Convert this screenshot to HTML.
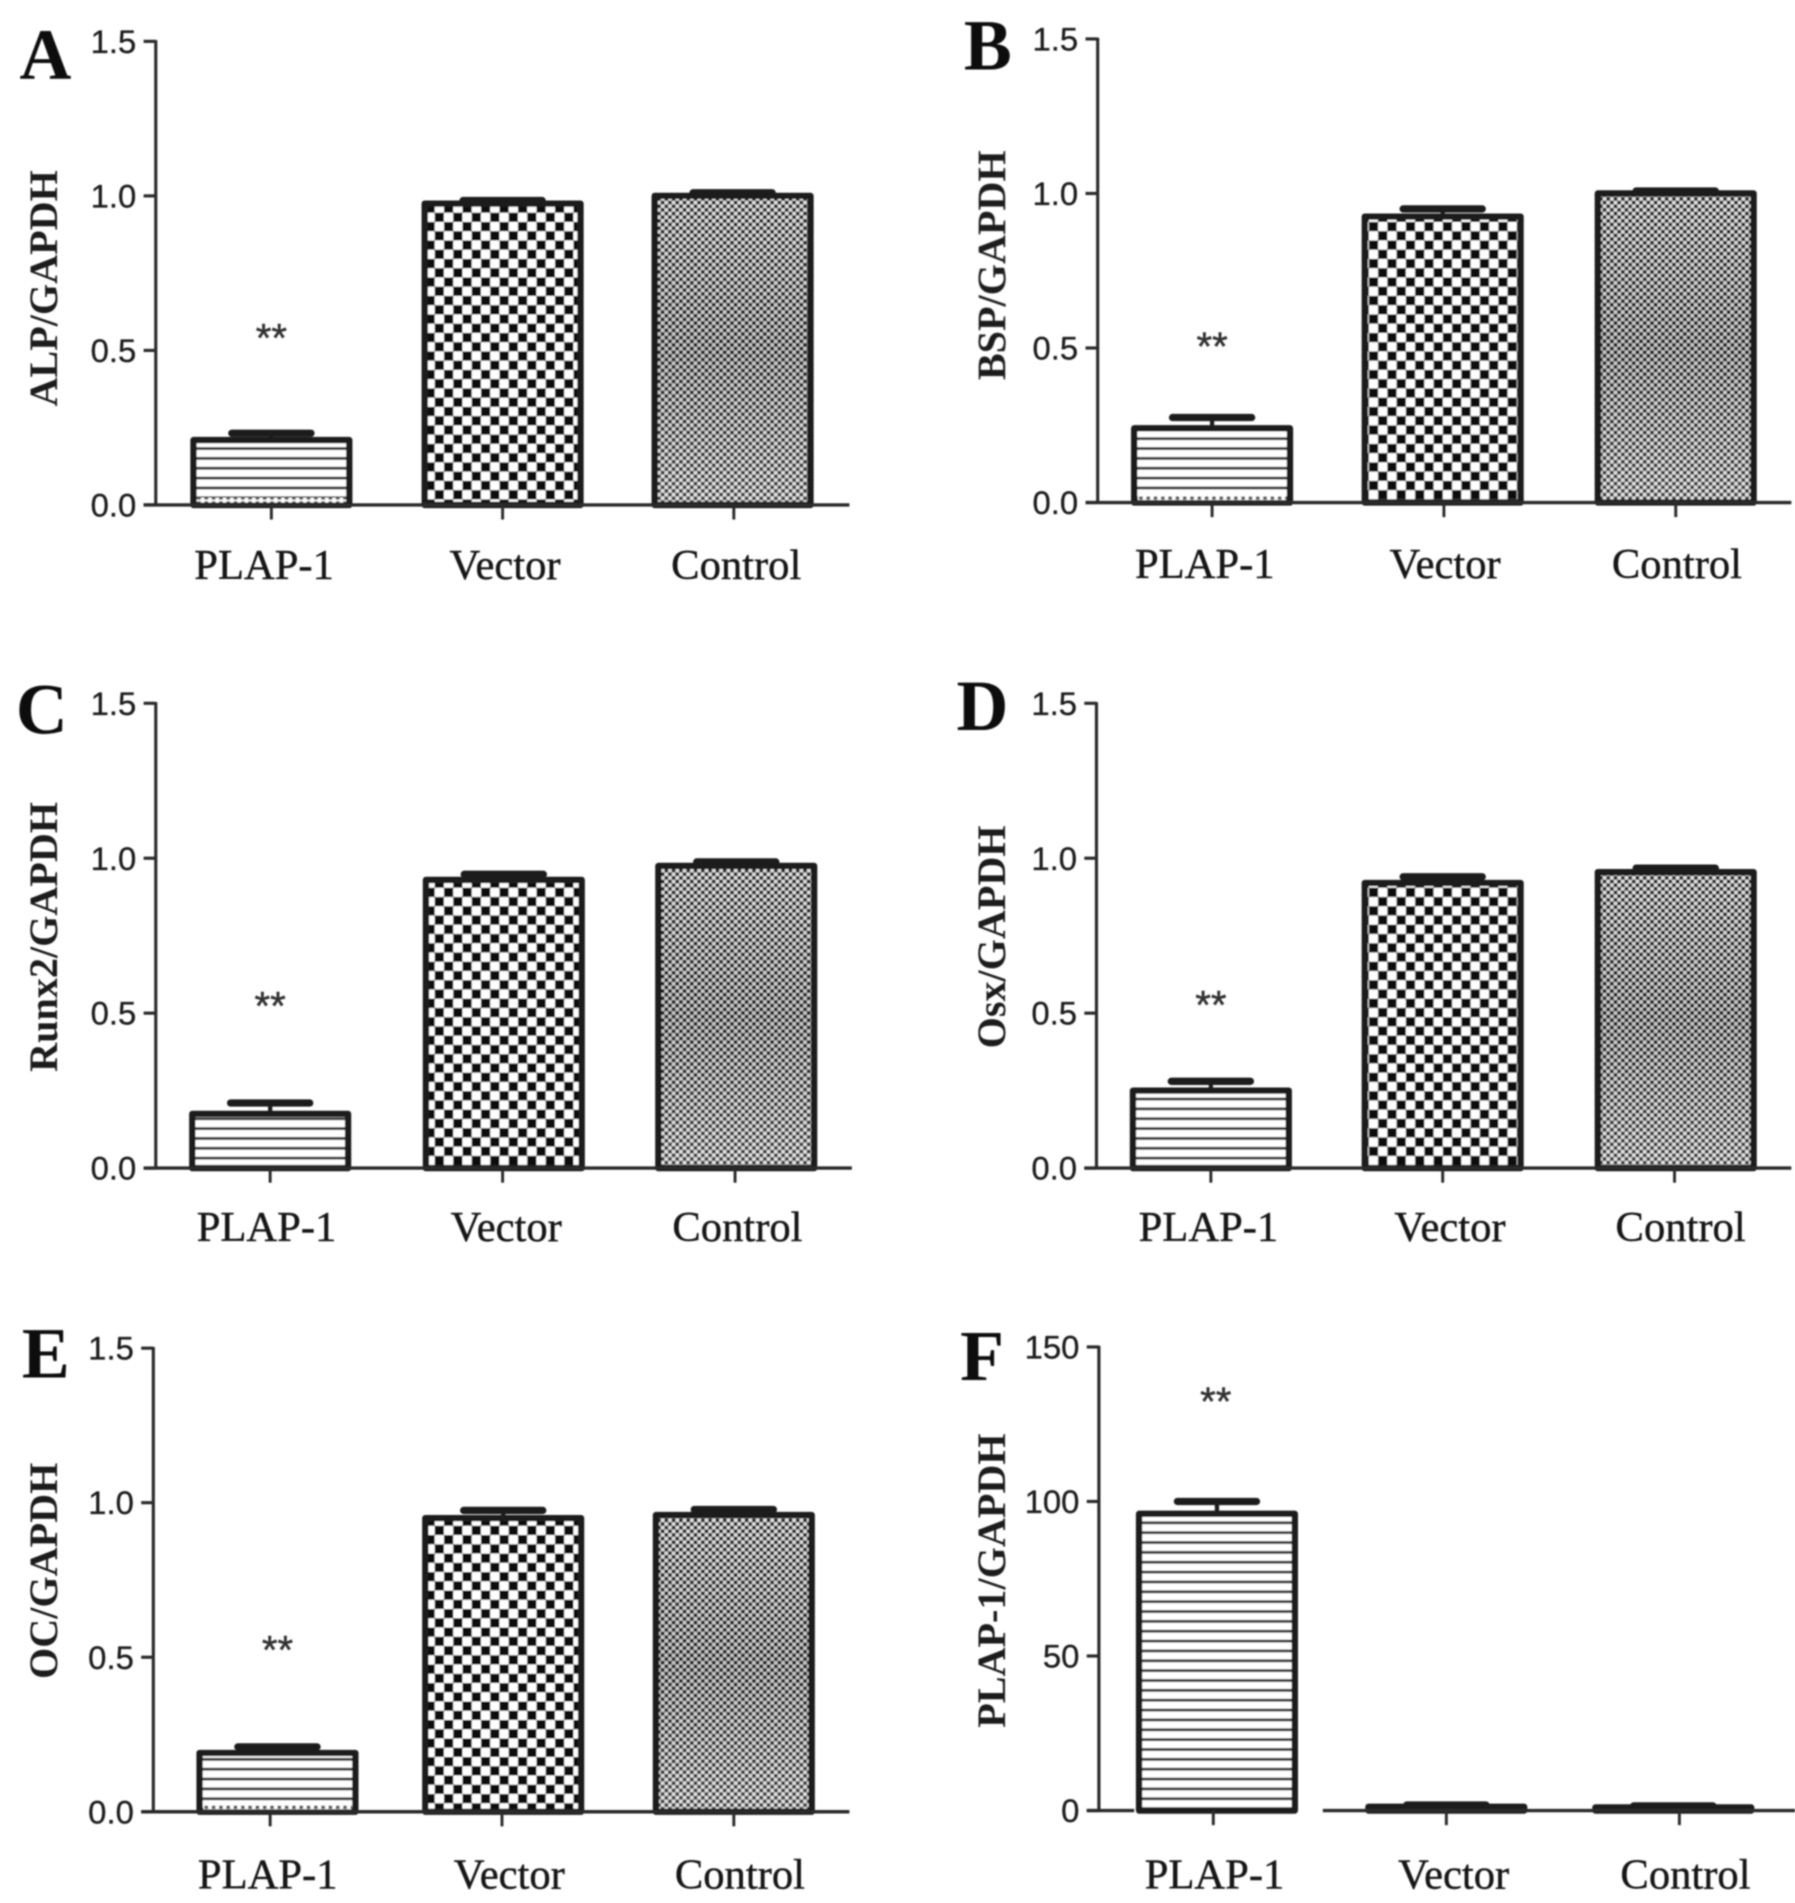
<!DOCTYPE html>
<html lang="en">
<head>
<meta charset="utf-8">
<title>PLAP-1 expression bar charts</title>
<style>
html,body{margin:0;padding:0;background:#fff;}
body{width:1795px;height:1903px;overflow:hidden;}
svg{display:block;}
.tick{font-family:"Liberation Sans",sans-serif;font-size:27px;fill:#1c1c1c;stroke:#1c1c1c;stroke-width:.25px;}
.cat{font-family:"Liberation Serif",serif;font-size:35px;fill:#141414;stroke:#141414;stroke-width:.35px;}
.title{font-family:"Liberation Serif",serif;font-weight:bold;font-size:33px;fill:#1c1c1c;}
.letter{font-family:"Liberation Serif",serif;font-weight:bold;font-size:59px;fill:#0c0c0c;}
.star{font-family:"Liberation Sans",sans-serif;font-size:33px;fill:#333;stroke:#333;stroke-width:.4px;}
</style>
</head>
<body>
<svg id="figure" xmlns="http://www.w3.org/2000/svg" width="1795" height="1903" viewBox="0 0 1475 1564" preserveAspectRatio="none">
  <defs>
    <filter id="soft" filterUnits="userSpaceOnUse" x="0" y="0" width="1475" height="1564">
      <feGaussianBlur stdDeviation="0.65"/>
    </filter>
    <pattern id="fill-hatch" patternUnits="userSpaceOnUse" width="8" height="8.1">
      <rect width="8" height="8.1" fill="#fff"/>
      <rect y="3" width="8" height="2.3" fill="#333"/>
    </pattern>
    <pattern id="fill-check" patternUnits="userSpaceOnUse" width="15.2" height="15.2">
      <rect width="15.2" height="15.2" fill="#fff"/>
      <rect width="7.6" height="7.6" fill="#111"/>
      <rect x="7.6" y="7.6" width="7.6" height="7.6" fill="#111"/>
    </pattern>
    <pattern id="fill-fine" patternUnits="userSpaceOnUse" width="6" height="6">
      <rect width="6" height="6" fill="#e2e2e2"/>
      <rect width="3" height="3" fill="#222"/>
      <rect x="3" y="3" width="3" height="3" fill="#222"/>
    </pattern>
    <pattern id="fill-dots" patternUnits="userSpaceOnUse" width="6" height="4">
      <rect width="6" height="4" fill="#fff"/>
      <rect width="3" height="2.6" fill="#555"/>
    </pattern>
    <linearGradient id="fine-shade" x1="0" y1="0" x2="0" y2="1">
      <stop offset="0" stop-color="#000" stop-opacity="0"/>
      <stop offset="0.5" stop-color="#000" stop-opacity="0.12"/>
      <stop offset="1" stop-color="#fff" stop-opacity="0.12"/>
    </linearGradient>
  </defs>
  <g id="plot-root" filter="url(#soft)"></g>
</svg>
<script>
// ---- chart data ----
const categories = ["PLAP-1", "Vector", "Control"];
const panelLetters = ["A", "B", "C", "D", "E", "F"];
const yTitles = ["ALP/GAPDH", "BSP/GAPDH", "Runx2/GAPDH", "Osx/GAPDH", "OC/GAPDH", "PLAP-1/GAPDH"];
const ratioTicks = ["0.0", "0.5", "1.0", "1.5"];
const percentTicks = ["0", "50", "100", "150"];
const meansA = [0.21, 0.975, 1.0];
const meansB = [0.24, 0.925, 1.0];
const meansC = [0.175, 0.93, 0.975];
const meansD = [0.25, 0.92, 0.955];
const meansE = [0.19, 0.95, 0.96];
const meansF = [96, 1.2, 1.0];
const errorTopsA = [0.232, 0.985, 1.01];
const errorTopsB = [0.275, 0.95, 1.008];
const errorTopsC = [0.21, 0.948, 0.988];
const errorTopsD = [0.28, 0.94, 0.968];
const errorTopsE = [0.21, 0.975, 0.978];
const errorTopsF = [100, 1.8, 1.5];

// ---- panel geometry (layout only, in the 1475x1564 view space) ----
const panels = [
  {means: meansA, tops: errorTopsA, ticks: ratioTicks, axisX: 128, yTop: 34, y0: 415, xEnd: 698, tick0: 223, step: 190, barShift: [0, 0, -1], labelShift: [-6, 2, 2], labelY: 476, starDx: 0, starY: 289, titleX: 47, titleY: 237, letterX: 16, letterY: 65, dots: true},
  {means: meansB, tops: errorTopsB, ticks: ratioTicks, axisX: 902, yTop: 32, y0: 413, xEnd: 1472, tick0: 996, step: 190.5, barShift: [0, -1, 0], labelShift: [-6, 1, 1], labelY: 475, starDx: 0, starY: 296, titleX: 826, titleY: 218, letterX: 792, letterY: 57, dots: true},
  {means: meansC, tops: errorTopsC, ticks: ratioTicks, axisX: 128, yTop: 578, y0: 960, xEnd: 700, tick0: 222, step: 191, barShift: [0, 1, 1], labelShift: [-3, 3, 2], labelY: 1020, starDx: 0, starY: 838, titleX: 47, titleY: 770, letterX: 13, letterY: 603, dots: false},
  {means: meansD, tops: errorTopsD, ticks: ratioTicks, axisX: 901, yTop: 578, y0: 960, xEnd: 1472, tick0: 995, step: 190.5, barShift: [0, 0, 1], labelShift: [-2, 6, 5], labelY: 1020, starDx: 0, starY: 837, titleX: 826, titleY: 770, letterX: 786, letterY: 600, dots: false},
  {means: meansE, tops: errorTopsE, ticks: ratioTicks, axisX: 126, yTop: 1108, y0: 1489, xEnd: 698, tick0: 222, step: 190.5, barShift: [6, 1, 0], labelShift: [-2, 6, 5], labelY: 1552, starDx: 6, starY: 1367, titleX: 47, titleY: 1291, letterX: 18, letterY: 1132, dots: true},
  {means: meansF, tops: errorTopsF, ticks: percentTicks, axisX: 903, yTop: 1107, y0: 1488, xEnd: 1475, tick0: 997, step: 191.5, barShift: [3, 0, -5], labelShift: [1, 6, 5], labelY: 1552, starDx: 2, starY: 1163, titleX: 826, titleY: 1299, letterX: 789, letterY: 1134, dots: false, gap: [932, 1087]}
];
const fills = ["url(#fill-hatch)", "url(#fill-check)", "url(#fill-fine)"];
const BAR_W = 128, CAP_W = 65;
const NS = "http://www.w3.org/2000/svg";
const root = document.getElementById("plot-root");

function mk(tag, parent, attrs) {
  const el = document.createElementNS(NS, tag);
  for (const k in attrs) el.setAttribute(k, attrs[k]);
  parent.appendChild(el);
  return el;
}

panels.forEach(function (p, pi) {
  const maxVal = parseFloat(p.ticks[p.ticks.length - 1]);
  const yScale = function (v) { return p.y0 - (v / maxVal) * (p.y0 - p.yTop); };
  const xScale = function (i) { return p.tick0 + i * p.step; };
  const id = panelLetters[pi].toLowerCase();

  const g = mk("g", root, {});
  
  

  const letter = mk("text", g, {x: p.letterX, y: p.letterY, "class": "letter"});
  letter.textContent = panelLetters[pi];
  
  

  const title = mk("text", g, {x: p.titleX, y: p.titleY, "class": "title", "text-anchor": "middle", transform: "rotate(-90 " + p.titleX + " " + p.titleY + ")"});
  title.textContent = yTitles[pi];
  
  

  // bars first so axes overlay their feet
  categories.forEach(function (cat, i) {
    const cx = xScale(i) + p.barShift[i];
    const top = yScale(p.means[i]);
    const capY = yScale(p.tops[i]);
    const stem = mk("line", g, {x1: cx, x2: cx, y1: top, y2: capY, stroke: "#1c1c1c", "stroke-width": 3.5});
    
    
    const cap = mk("line", g, {x1: cx - CAP_W / 2, x2: cx + CAP_W / 2, y1: capY, y2: capY, stroke: "#1c1c1c", "stroke-width": 6, "stroke-linecap": "round"});
    
    
    const bar = mk("rect", g, {x: cx - BAR_W / 2, y: top, width: BAR_W, height: p.y0 - top, fill: fills[i], stroke: "#1e1e1e", "stroke-width": 5.2, "stroke-linejoin": "round"});
    
    
    if (i === 2 && p.means[i] / maxVal > 0.1) {
      const shade = mk("rect", g, {x: cx - BAR_W / 2 + 2.6, y: top + 2.6, width: BAR_W - 5.2, height: p.y0 - top - 5.2, fill: "url(#fine-shade)"});
      
      
    }
    if (i === 0 && p.dots) {
      const foot = mk("rect", g, {x: cx - BAR_W / 2 + 3, y: p.y0 - 6, width: BAR_W - 6, height: 4, fill: "url(#fill-dots)"});
      
      
    }
  });

  const star = mk("text", g, {x: xScale(0) + p.starDx, y: p.starY, "class": "star", "text-anchor": "middle"});
  star.textContent = "**";
  
  

  const yAxis = mk("line", g, {x1: p.axisX, x2: p.axisX, y1: p.yTop - 1, y2: p.y0 + 1, stroke: "#2a2a2a", "stroke-width": 2.6});
  
  

  if (p.gap) {
    const left = mk("line", g, {x1: p.axisX - 10, x2: p.gap[0], y1: p.y0, y2: p.y0, stroke: "#2a2a2a", "stroke-width": 2.8});
    
    
    const right = mk("line", g, {x1: p.gap[1], x2: p.xEnd, y1: p.y0, y2: p.y0, stroke: "#2a2a2a", "stroke-width": 2.8});
    
    
  } else {
    const xAxis = mk("line", g, {x1: p.axisX - 10, x2: p.xEnd, y1: p.y0, y2: p.y0, stroke: "#2a2a2a", "stroke-width": 2.8});
    
    
  }

  p.ticks.forEach(function (t) {
    const y = yScale(parseFloat(t));
    const mark = mk("line", g, {x1: p.axisX - 10, x2: p.axisX, y1: y, y2: y, stroke: "#2a2a2a", "stroke-width": 2.6});
    
    
    const lab = mk("text", g, {x: p.axisX - 16, y: y + 9.5, "class": "tick", "text-anchor": "end"});
    lab.textContent = t;
    
    
  });

  categories.forEach(function (cat, i) {
    const x = xScale(i);
    const mark = mk("line", g, {x1: x, x2: x, y1: p.y0, y2: p.y0 + 12, stroke: "#2a2a2a", "stroke-width": 2.4});
    
    
    const lab = mk("text", g, {x: x + p.labelShift[i], y: p.labelY, "class": "cat", "text-anchor": "middle"});
    lab.textContent = cat;
    
    
  });
});
</script>
</body>
</html>
